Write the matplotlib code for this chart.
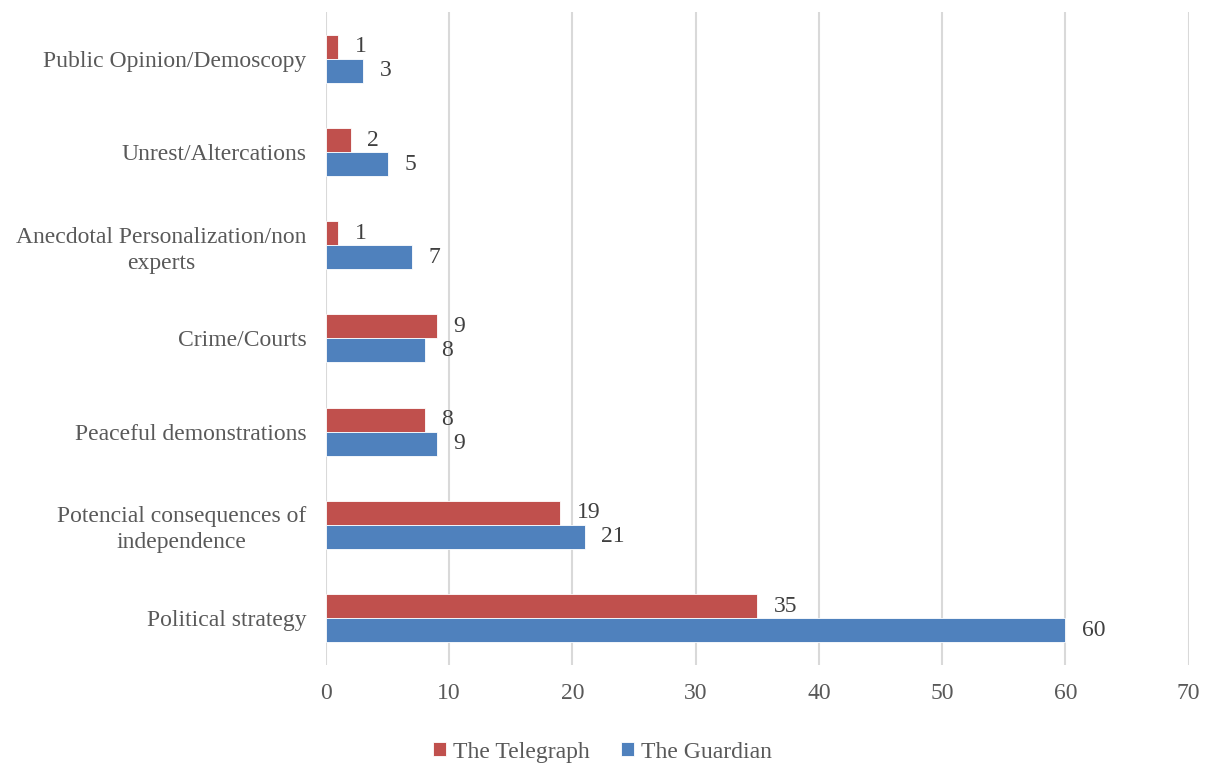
import numpy as np
import matplotlib.pyplot as plt

categories = ["Public Opinion/Demoscopy", "Unrest/Altercations",
              "Anecdotal Personalization/non\nexperts", "Crime/Courts",
              "Peaceful demonstrations", "Potencial consequences of\nindependence",
              "Political strategy"]
telegraph = [1, 2, 1, 9, 8, 19, 35]
guardian = [3, 5, 7, 8, 9, 21, 60]

RED = "#C0504D"
BLUE = "#4F81BD"
TXT = "#595959"

plt.rcParams['font.family'] = ['Liberation Serif', 'DejaVu Serif']

fig = plt.figure(figsize=(12.05, 7.64), dpi=100)
ax = fig.add_axes([0.2705, 0.130, 0.716, 0.854])

y = np.arange(len(categories))
h = 0.257
b1 = ax.barh(y - h / 2, telegraph, height=h, color=RED, edgecolor="white", linewidth=0.6,
             label="The Telegraph", zorder=3)
b2 = ax.barh(y + h / 2, guardian, height=h, color=BLUE, edgecolor="white", linewidth=0.6,
             label="The Guardian", zorder=3)

for bars, vals in ((b1, telegraph), (b2, guardian)):
    for bar, v in zip(bars, vals):
        ax.text(bar.get_width() + 1.35, bar.get_y() + bar.get_height() / 2, str(v),
                va="center", ha="left", fontsize=17, color="#404040")

ax.set_ylim(len(categories) - 0.5, -0.5)
ax.set_xlim(0, 70)
ax.set_xticks(range(0, 71, 10))
ax.set_yticks(y)
ax.set_yticklabels(categories, ha="right", multialignment="center", linespacing=1.3)
ax.tick_params(axis="y", pad=14, length=0, labelsize=17, labelcolor=TXT)
ax.tick_params(axis="x", length=0, labelsize=17, labelcolor=TXT, pad=13)
ax.xaxis.grid(True, color="#D9D9D9", linewidth=1.5, zorder=0)
for s in ax.spines.values():
    s.set_visible(False)

fig.legend(handles=[b1, b2], loc="lower center", bbox_to_anchor=(0.5, -0.026), ncol=2,
           frameon=False, fontsize=17, handlelength=0.55, handleheight=0.55,
           handletextpad=0.3, columnspacing=1.3, labelcolor=TXT)

fig.savefig("out.png", dpi=100)
